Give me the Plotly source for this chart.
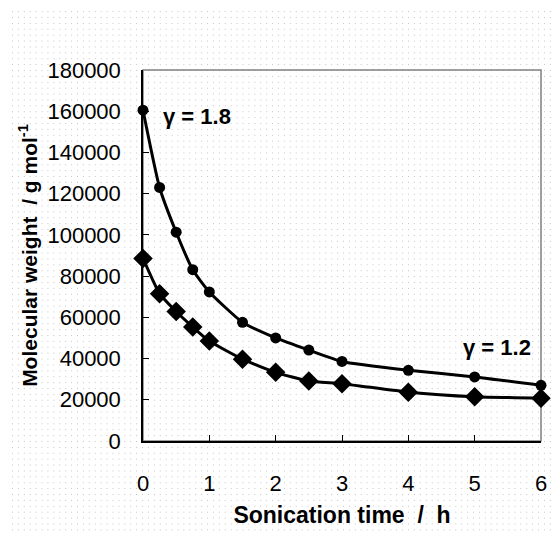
import plotly.graph_objects as go

# Data
time_h = [0, 0.25, 0.5, 0.75, 1, 1.5, 2, 2.5, 3, 4, 5, 6]
mw_upper = [160500, 123000, 101300, 83100, 72300, 57600, 50000, 44100, 38600, 34300, 31100, 27000]
mw_lower = [88600, 71500, 62800, 55300, 48500, 39700, 33300, 29100, 27800, 23700, 21500, 20800]

ann_text = ["γ = 1.8", "γ = 1.2"]
ann_x = [0.81, 5.33]
ann_y = [157500, 45200]

FONT = "Liberation Sans, Arial, sans-serif"

W, H = 551, 528
L, R, T, B = 135, 12, 62, 88
PW, PH = W - L - R, H - T - B

dots_svg = ("data:image/svg+xml;utf8,"
            "<svg xmlns='http://www.w3.org/2000/svg' width='559' height='536'>"
            "<defs><pattern id='p' width='6' height='6' patternUnits='userSpaceOnUse'>"
            "<rect x='2' y='2' width='1' height='1' fill='%23c4c4c4'/></pattern></defs>"
            "<rect width='559' height='536' fill='url(%23p)'/></svg>")

fig = go.Figure()
fig.add_trace(go.Scatter(
    x=time_h, y=mw_upper, mode="lines+markers",
    line=dict(color="black", width=3, shape="spline", smoothing=0.5),
    marker=dict(symbol="circle", size=11, color="black"),
    showlegend=False, cliponaxis=False))
fig.add_trace(go.Scatter(
    x=time_h, y=mw_lower, mode="lines+markers",
    line=dict(color="black", width=3, shape="spline", smoothing=0.5),
    marker=dict(symbol="diamond", size=15, color="black"),
    showlegend=False, cliponaxis=False))

for t, x, y in zip(ann_text, ann_x, ann_y):
    fig.add_annotation(x=x, y=y, text="<b>" + t + "</b>", showarrow=False,
                       font=dict(family=FONT, size=22, color="black"))

fig.add_shape(type="rect", xref="x domain", yref="y domain", x0=0, x1=1, y0=0, y1=1,
              line=dict(color="#808080", width=1.5), layer="below")

fig.update_layout(
    width=W, height=H,
    margin=dict(l=L, r=R, t=T, b=B),
    paper_bgcolor="white", plot_bgcolor="rgba(0,0,0,0)",
    font=dict(family=FONT, size=22, color="black"),
    images=[dict(source=dots_svg, xref="paper", yref="paper", x=-L / PW, y=1 + T / PH,
                 sizex=559 / PW, sizey=536 / PH, xanchor="left", yanchor="top",
                 sizing="stretch", layer="below")],
)
fig.update_xaxes(
    range=[0, 6], dtick=1, tick0=0, showgrid=False, zeroline=False,
    showline=True, linecolor="black", linewidth=1.5,
    ticks="inside", ticklen=6, tickwidth=1, tickcolor="black",
    ticklabelstandoff=22,
    tickfont=dict(family=FONT, size=22),
    title=dict(text="<b>Sonication time\u00a0 /\u00a0 h</b>", font=dict(family=FONT, size=23), standoff=12))
fig.update_yaxes(
    range=[0, 180000], dtick=20000, tick0=0, tickformat="d", showgrid=False, zeroline=False,
    showline=True, linecolor="black", linewidth=1.5,
    ticks="inside", ticklen=6, tickwidth=1, tickcolor="black",
    ticklabelstandoff=16,
    tickfont=dict(family=FONT, size=22),
    title=dict(text="<b>Molecular weight\u00a0 / g mol<sup>-1</sup></b>", font=dict(family=FONT, size=21), standoff=4))

fig.write_html("out.html")
